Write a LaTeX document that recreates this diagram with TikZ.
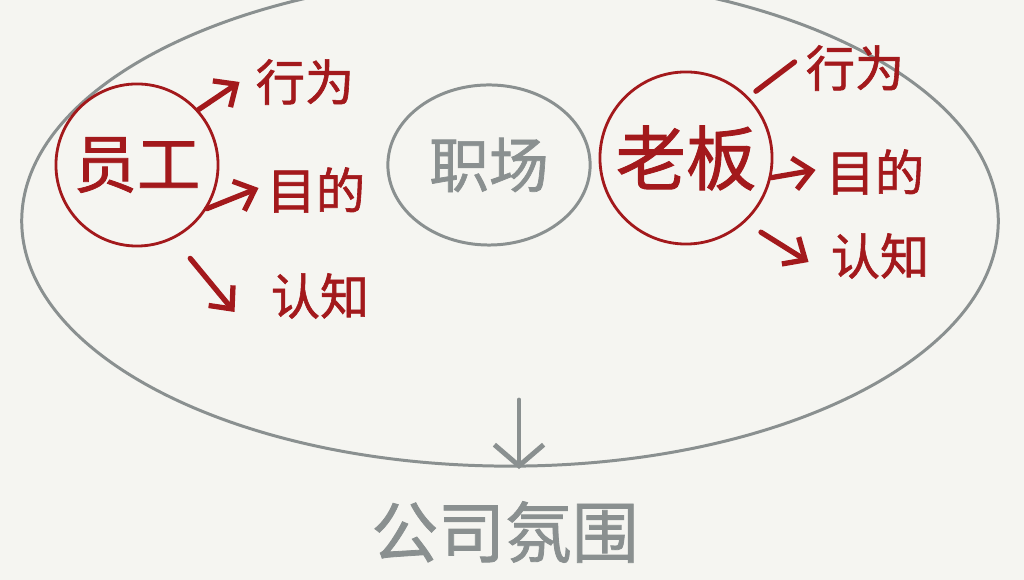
\documentclass[tikz,border=0pt]{standalone}
\usepackage{fontspec}
\newfontfamily\cjk[FakeBold=1.2]{Noto Sans CJK SC}
\usetikzlibrary{arrows.meta,shapes.geometric,calc}
\definecolor{bgc}{HTML}{F5F5F1}
\definecolor{inkred}{HTML}{A3191C}
\definecolor{inkgray}{HTML}{8A9090}
\tikzset{
  graycirc/.style={draw=inkgray, line width=0.85pt, ellipse},
  redlbl/.style={text=inkred, font=\cjk\fontsize{14}{14}\selectfont, inner sep=1pt},
  redarr/.style={draw=inkred, line width=1.5pt, -{Straight Barb[length=5pt,width=9pt,line width=1.5pt]}, line cap=round},
  redline/.style={draw=inkred, line width=1.5pt, line cap=round},
  grayarr/.style={draw=inkgray, line width=1.4pt, -{Straight Barb[length=6pt,width=14pt,line width=1.4pt]}, line cap=round},
}
\begin{document}
\begin{tikzpicture}[x=0.01cm,y=-0.01cm]
\fill[bgc] (0,0) rectangle (1024,580);
\useasboundingbox (0,0) rectangle (1024,580);
\begin{scope}
\clip (0,0) rectangle (1024,580);
\node[graycirc, minimum width=9.76cm, minimum height=4.9cm] (world) at (510,221) {};
\end{scope}
% workplace
\node[graycirc, minimum width=1.92cm, minimum height=1.6cm, text=inkgray, font=\cjk\fontsize{17}{17}\selectfont] (work) at (489,165) {职场};
% employee
\node[draw=inkred, line width=0.8pt, circle, minimum size=1.62cm, inner sep=0pt, text=inkred, font=\cjk\fontsize{18}{18}\selectfont] (emp) at (137,165) {员工};
\node[redlbl] (e1) at (305,82) {行为};
\node[redlbl] (e2) at (316,190) {目的};
\node[redlbl] (e3) at (320,296) {认知};
\draw[redarr] (emp.42) -- ($(e1.west)+(-12,0)$);
\draw[redarr] (emp.-32) -- ($(e2.west)+(-4,-2)$);
\draw[redarr] ($(emp.-60)+(12,22)$) -- ($(e3.west)+(-32,16)$);
% boss
\node[draw=inkred, line width=0.8pt, circle, minimum size=1.72cm, inner sep=0pt, text=inkred, font=\cjk\fontsize{20}{20}\selectfont] (boss) at (686,158) {老板};
\node[redlbl] (b1) at (855,68) {行为};
\node[redlbl] (b2) at (875,172) {目的};
\node[redlbl] (b3) at (880,256) {认知};
\draw[redline] ($(boss.44)+(7,-6)$) -- ($(b1.west)+(-7,-6)$);
\draw[redarr] (boss.-13) -- ($(b2.west)+(-6,-2)$);
\draw[redarr] ($(boss.-40)+(8,18)$) -- ($(b3.west)+(-18,6)$);
% bottom
\node[text=inkgray, font=\cjk\fontsize{19}{19}\selectfont, inner sep=1pt] (atm) at (505,532) {公司氛围};
\coordinate (top) at (519,400);
\draw[grayarr] (top) -- ($(atm.north)+(14,-28)$);
\end{tikzpicture}
\end{document}
